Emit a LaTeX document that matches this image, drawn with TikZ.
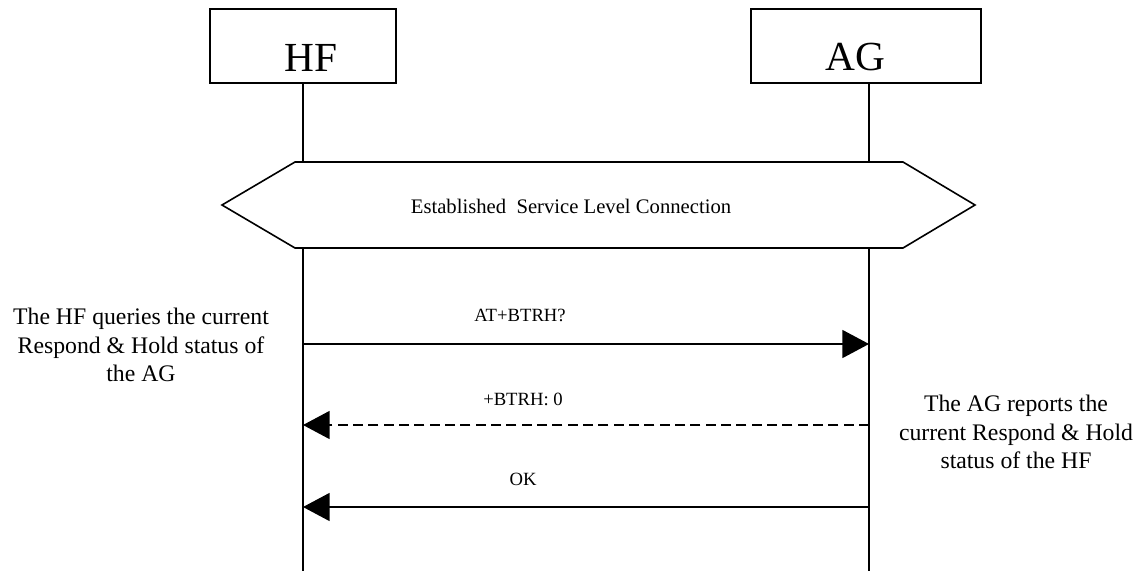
\documentclass[tikz,border=0pt]{standalone}
\usepackage{fontspec}
\setmainfont{Liberation Serif}
\usetikzlibrary{arrows.meta}
\begin{document}
\begin{tikzpicture}[x=0.75pt,y=-0.75pt,
  entity/.style={draw,line width=1.3pt,minimum height=55.5pt,inner sep=0pt},
  etext/.style={font=\fontsize{31}{36}\selectfont,inner sep=0pt},
  life/.style={line width=1.2pt},
  msg/.style={line width=1.2pt,-{Triangle[length=20pt,width=21pt]}},
  dmsg/.style={msg,dash pattern=on 7.5pt off 4pt},
  lbl/.style={font=\fontsize{14}{16}\selectfont},
  note/.style={align=center,font=\fontsize{17.8}{21.5}\selectfont}]
\useasboundingbox (0,0) rectangle (1141,571);
\node[entity,minimum width=139.5pt] (hf) at (303,46) {};
\node[entity,minimum width=172.5pt] (ag) at (866,46) {};
\node[etext] (hft) at (311,57.5) {HF};
\node[etext] (agt) at (855,57.5) {AG};
\coordinate (hfend) at (303,571);
\coordinate (agend) at (869,571);
\draw[life] (hf.south) -- (hfend);
\draw[life] (hf.south -| agend) -- (agend);
% established connection hexagon
\draw[line width=1.2pt,fill=white] (222,205) -- (295,162) -- (903,162) -- (975,205) -- (903,248) -- (295,248) -- cycle;
\node[font=\fontsize{15.5}{18}\selectfont] (est) at (571,206) {Established\ \ Service Level Connection};
% messages
\coordinate (hf1) at (303,344);
\coordinate (ag1) at (869,344);
\coordinate (hf2) at (303,425);
\coordinate (ag2) at (869,425);
\coordinate (hf3) at (303,507);
\coordinate (ag3) at (869,507);
\draw[msg] (hf1) -- (ag1);
\draw[dmsg] (ag2) -- (hf2);
\draw[msg] (ag3) -- (hf3);
\node[lbl] (l1) at (520,315) {AT+BTRH?};
\node[lbl] (l2) at (523,399) {+BTRH: 0};
\node[lbl] (l3) at (523,479) {OK};
\node[note] (n1) at (141,345) {The HF queries the current\\Respond \& Hold status of\\the AG};
\node[note] (n2) at (1016,432) {The AG reports the\\current Respond \& Hold\\status of the HF};
\end{tikzpicture}
\end{document}
